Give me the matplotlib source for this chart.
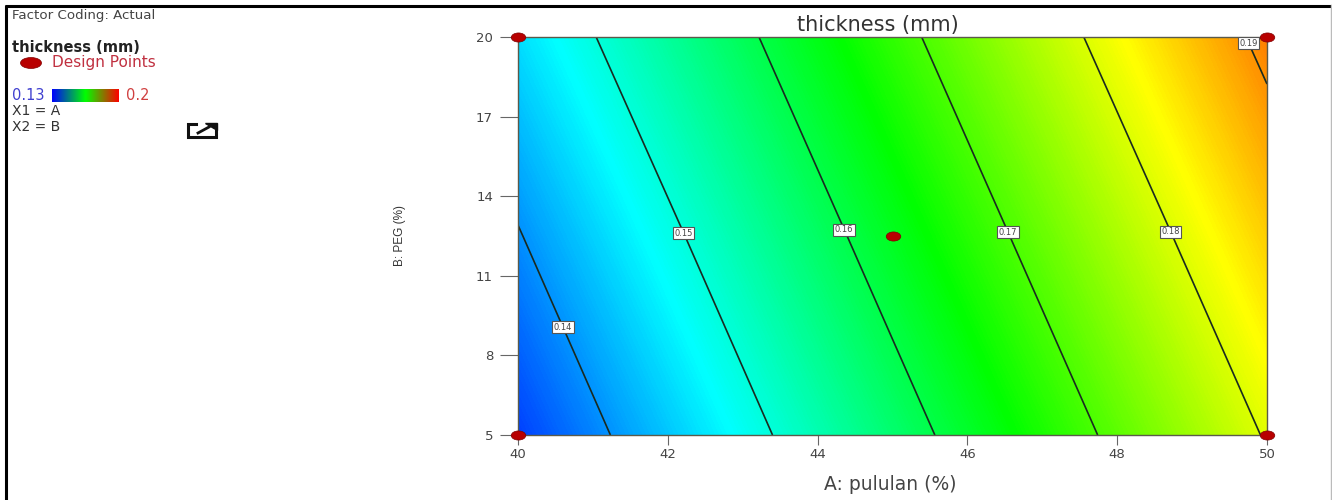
import numpy as np
import matplotlib
matplotlib.use("Agg")
import matplotlib.pyplot as plt
from matplotlib.colors import LinearSegmentedColormap
from matplotlib.patches import Ellipse
from matplotlib.path import Path
from matplotlib.transforms import Affine2D

W, H = 1332, 500

# factor levels and response
pululan = [40, 45, 50]
peg = [5, 12.5, 20]
thickness = [
    [0.1343, 0.1574, 0.1804],
    [0.1397, 0.1628, 0.1858],
    [0.1452, 0.1682, 0.1913],
]
contour_levels = [0.14, 0.15, 0.16, 0.17, 0.18, 0.19]
label_spots = [(40.6, 9.05), (42.25, 12.65), (44.4, 12.8), (46.55, 12.65), (48.7, 12.65), (49.75, 19.75)]
design_a = [40, 50, 40, 50, 45]
design_b = [5, 5, 20, 20, 12.5]
x_ticks = [40, 42, 44, 46, 48, 50]
y_ticks = [5, 8, 11, 14, 17, 20]

rainbow = LinearSegmentedColormap.from_list(
    "rainbow5", ["#0000ff", "#00ffff", "#00ff00", "#ffff00", "#ff0000"], N=512)
legend_bar = LinearSegmentedColormap.from_list("bar", ["#0000ff", "#00ff00", "#ff0000"])

fig = plt.figure(figsize=(W / 100, H / 100), dpi=100)
plt.rcParams["font.family"] = ["DejaVu Sans"]


def px_axes(x0, y0, x1, y1):
    return fig.add_axes([x0 / W, 1 - y1 / H, (x1 - x0) / W, (y1 - y0) / H])


# overlay in pixel coordinates for frame and legend
bg = fig.add_axes([0, 0, 1, 1])
bg.set_xlim(0, W)
bg.set_ylim(H, 0)
bg.axis("off")
bg.plot([6, 6], [H, 4.5], color="black", lw=2.2, solid_capstyle="butt")
bg.plot([5, W], [5.5, 5.5], color="black", lw=2.2, solid_capstyle="butt")
bg.plot([W - 1, W - 1], [5, H], color="#bbbbbb", lw=1)

ax = px_axes(518, 37, 1267, 435)
ax.contourf(pululan, peg, thickness, levels=np.linspace(0.13, 0.2, 281), cmap=rainbow, vmin=0.13, vmax=0.2)
lines = ax.contour(pululan, peg, thickness, levels=contour_levels, colors="#1a2a20", linewidths=1.2)
labels = ax.clabel(lines, manual=label_spots, inline=False, fontsize=6, fmt="%.2f", colors="#444444")
for t in labels:
    t.set_rotation(0)
    t.set_bbox(dict(facecolor="white", edgecolor="#555555", linewidth=0.8, pad=1.1))

# design points are flattened dots
flat_dot = Path.unit_circle().transformed(Affine2D().scale(1.6, 1))
ax.scatter(design_a, design_b, s=110, marker=flat_dot, color="#b80000", edgecolor="#800000", linewidth=0.5,
           clip_on=False, zorder=5)

ax.set_xlim(40, 50)
ax.set_ylim(5, 20)
ax.set_xticks(x_ticks)
ax.set_yticks(y_ticks)
ax.tick_params(axis="y", length=13, width=0.8, color="#666666", labelcolor="#444444", labelsize=9.5, pad=5)
ax.tick_params(axis="x", length=7, width=0.8, color="#666666", labelcolor="#444444", labelsize=9.5, pad=2)
for s in ax.spines.values():
    s.set_color("#5a5a4a")
    s.set_linewidth(1)

bg.text(878, 25, "thickness (mm)", fontsize=15, color="#333333", ha="center", va="center")
bg.text(890, 484, "A: pululan (%)", fontsize=13.5, color="#444444", ha="center", va="center")
bg.text(400, 236, "B: PEG (%)", fontsize=8.5, color="#333333", ha="center", va="center", rotation=90,
        family=["Liberation Sans", "DejaVu Sans"])

# legend block
bg.text(12, 16, "Factor Coding: Actual", fontsize=9.6, color="#444444", va="center")
bg.text(12, 47, "thickness (mm)", fontsize=10.5, color="#222222", fontweight="bold", va="center")
bg.add_patch(Ellipse((31, 63), 21, 11, facecolor="#b80000", edgecolor="#800000", lw=0.5))
bg.text(52, 63, "Design Points", fontsize=11, color="#c03040", va="center")
bg.text(12, 95, "0.13", fontsize=10.5, color="#4040d0", va="center")
bg.text(126, 95, "0.2", fontsize=10.5, color="#d04040", va="center")
bar = px_axes(52, 89, 119, 102)
bar.imshow(np.linspace(0, 1, 256)[None, :], aspect="auto", cmap=legend_bar)
bar.axis("off")
bg.text(12, 111, "X1 = A", fontsize=10, color="#333333", va="center")
bg.text(12, 127, "X2 = B", fontsize=10, color="#333333", va="center")

# export icon
bg.plot([196, 188, 188, 216, 216], [124, 124, 136.5, 136.5, 131], color="#111111", lw=2.2, solid_joinstyle="miter")
bg.plot([198, 209], [133, 127], color="#111111", lw=2)
bg.add_patch(plt.Polygon([[205, 122.5], [217, 122.5], [217, 130]], color="#111111"))

fig.savefig("out.png", dpi=100)
